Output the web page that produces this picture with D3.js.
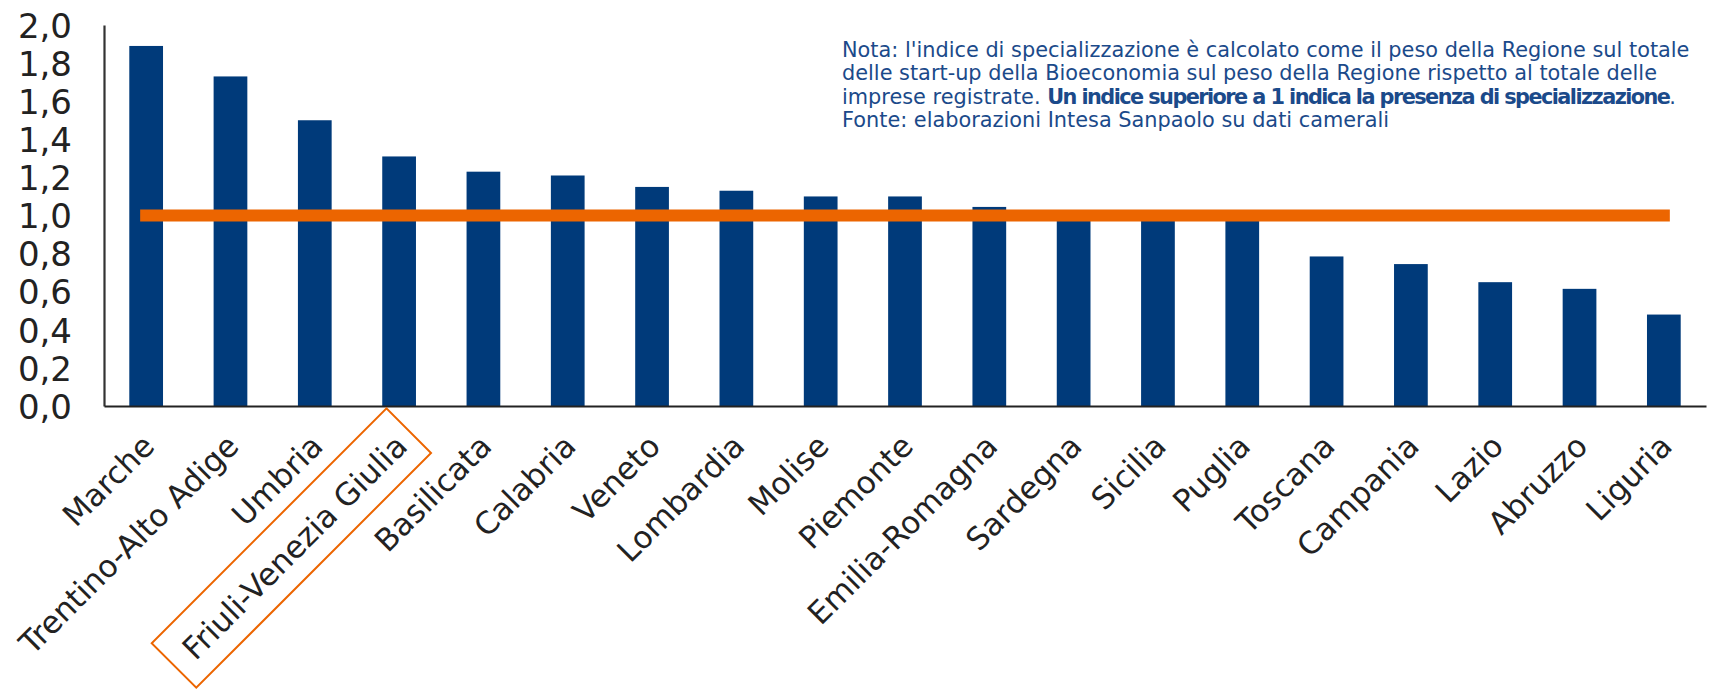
<!DOCTYPE html>
<html>
<head>
<meta charset="utf-8">
<script src="https://cdn.jsdelivr.net/npm/d3@7"></script>
<style>
  html, body { margin: 0; padding: 0; background: #fff; }
  svg { display: block; }
  text { font-family: "DejaVu Sans", sans-serif; }
</style>
</head>
<body>
<svg id="chart" width="1716" height="692"></svg>
<script>
const categories = ["Marche","Trentino-Alto Adige","Umbria","Friuli-Venezia Giulia","Basilicata","Calabria","Veneto","Lombardia","Molise","Piemonte","Emilia-Romagna","Sardegna","Sicilia","Puglia","Toscana","Campania","Lazio","Abruzzo","Liguria"];
const values = [1.89,1.73,1.50,1.31,1.23,1.21,1.15,1.13,1.10,1.10,1.045,1.00,1.00,0.99,0.785,0.745,0.65,0.615,0.48];
const threshold = [1,1,1,1,1,1,1,1,1,1,1,1,1,1,1,1,1,1,1];
const yTicks = [0,0.2,0.4,0.6,0.8,1.0,1.2,1.4,1.6,1.8,2.0];
const highlighted = "Friuli-Venezia Giulia";
const noteLines = [
  [{t:"Nota: l'indice di specializzazione è calcolato come il peso della Regione sul totale", b:false}],
  [{t:"delle start-up della Bioeconomia sul peso della Regione rispetto al totale delle", b:false}],
  [{t:"imprese registrate. ", b:false},{t:"Un indice superiore a 1 indica la presenza di specializzazione", b:true},{t:".", b:false}],
  [{t:"Fonte: elaborazioni Intesa Sanpaolo su dati camerali", b:false}]
];

const svg = d3.select("#chart");
const mLeft = 104, mRight = 1706, mTop = 25, mBottom = 406;
const barColor = "#003a7a", orange = "#ec6500", textColor = "#222222";

const x = d3.scaleBand().domain(categories).range([mLeft, mRight]).paddingInner(0.6).paddingOuter(0.3);
const y = d3.scaleLinear().domain([0, 2]).range([mBottom, mTop]);

// bars
svg.append("g").selectAll("rect").data(categories).join("rect")
  .attr("x", d => x(d))
  .attr("y", (d,i) => y(values[i]))
  .attr("width", x.bandwidth())
  .attr("height", (d,i) => y(0) - y(values[i]))
  .attr("fill", barColor);

// y axis
const yAxis = d3.axisLeft(y).tickValues(yTicks).tickSize(0).tickPadding(32)
  .tickFormat(d => d3.format(".1f")(d).replace(".", ","));
const ga = svg.append("g").attr("transform", `translate(${mLeft},0)`).call(yAxis);
ga.select(".domain").attr("stroke", "#333").attr("stroke-width", 2.2);
ga.selectAll("text").attr("font-size", 34).attr("fill", textColor).attr("font-family", "DejaVu Sans, sans-serif").attr("dy", "0.36em");

// x axis
const xAxis = d3.axisBottom(x).tickSize(0).tickFormat("");
const gx = svg.append("g").attr("transform", `translate(0,${mBottom})`).call(xAxis);
gx.select(".domain").attr("stroke", "#222").attr("stroke-width", 2.2);

// threshold line
const line = d3.line().x((d,i) => x(categories[i]) + x.bandwidth()/2).y(d => y(d));
svg.append("path").datum(threshold).attr("d", line)
  .attr("fill", "none").attr("stroke", orange).attr("stroke-width", 12).attr("stroke-linecap", "square");

// x labels
const lab = svg.append("g").selectAll("g").data(categories).join("g")
  .attr("transform", d => `translate(${x(d) + x.bandwidth()/2 + 10},${mBottom + 42}) rotate(-45)`);
lab.append("text").attr("text-anchor", "end").attr("font-size", 31).attr("fill", textColor).text(d => d);
lab.filter(d => d === highlighted).append("rect")
  .attr("x", -320).attr("y", -44).attr("width", 332).attr("height", 63)
  .attr("fill", "none").attr("stroke", orange).attr("stroke-width", 2);

// note
const note = svg.append("g");
const noteX = 842, noteY0 = 57, noteDy = 23.4;
let fs = 19;
noteLines.forEach((ln, li) => {
  const t = note.append("text").attr("x", noteX).attr("y", noteY0 + li*noteDy).attr("fill", "#1b4a8a").attr("font-size", fs);
  ln.forEach(seg => t.append("tspan").text(seg.t).attr("font-weight", seg.b ? "bold" : "normal"));
});
const w0 = note.select("text").node().getComputedTextLength();
const fsN = fs * 848 / w0;
note.selectAll("text").attr("font-size", fsN);
// keep the bold line within the reference width (~834px) by tightening letter spacing
const t3 = note.selectAll("text").filter((d, i) => i === 2);
const w3 = t3.node().getComputedTextLength();
if (w3 > 834) {
  const boldSpan = t3.selectAll("tspan").filter(function() { return d3.select(this).attr("font-weight") === "bold"; });
  const n = boldSpan.text().length;
  boldSpan.attr("letter-spacing", -(w3 - 834) / n);
}
</script>
</body>
</html>
